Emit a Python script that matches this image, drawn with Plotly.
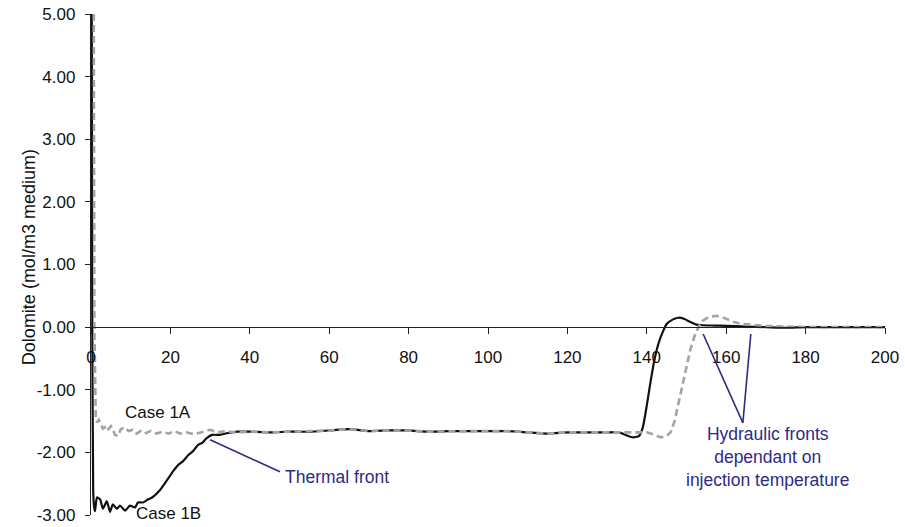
import plotly.graph_objects as go

# Dolomite profile along the flow path, Case 1B (solid)
case_1b_x = [0.2, 0.3, 0.55, 0.75, 1.0, 1.5, 2.3, 3.0, 4.0, 4.8, 5.5, 6.5, 7.3, 8.6, 9.8,
             11.1, 11.8, 13.1, 14.4, 15.4, 17.4, 19.4, 20.7, 22.0, 23.2, 24.4, 25.7, 27.0,
             28.0, 29.0, 30.5, 32.5, 34.5, 37.0, 40, 45, 50, 55, 60, 65, 70, 75, 80, 85,
             90, 95, 100, 105, 110, 115, 120, 125, 130, 133, 135, 136.5, 138, 139, 140,
             141, 142, 143, 144, 145, 146.5, 148, 149.5, 151, 152.5, 154, 157, 160, 165,
             170, 175, 180, 190, 200]
case_1b_y = [5.0, 0.5, -2.6, -2.85, -2.94, -2.72, -2.75, -2.9, -2.78, -2.95, -2.83, -2.9,
             -2.85, -2.93, -2.85, -2.88, -2.8, -2.8, -2.75, -2.72, -2.6, -2.42, -2.3, -2.2,
             -2.14, -2.05, -1.98, -1.88, -1.85, -1.78, -1.72, -1.72, -1.69, -1.67, -1.67,
             -1.68, -1.67, -1.67, -1.65, -1.63, -1.66, -1.65, -1.65, -1.67, -1.66, -1.66,
             -1.66, -1.66, -1.68, -1.70, -1.68, -1.68, -1.68, -1.68, -1.73, -1.76, -1.74,
             -1.6, -1.25, -0.85, -0.5, -0.25, -0.08, 0.05, 0.12, 0.15, 0.13, 0.08, 0.04,
             0.03, 0.025, 0.02, 0.01, 0.0, -0.01, 0.0, 0.0, 0.0]

# Dolomite profile along the flow path, Case 1A (dashed)
case_1a_x = [0.7, 0.85, 1.2, 1.5, 2.0, 2.5, 3.0, 3.5, 4.0, 5.0, 5.5, 6.0, 6.8, 7.5, 8.5,
             9.5, 10.5, 11.5, 12.5, 13.5, 15, 16.5, 18, 19.5, 21, 22.5, 24, 26, 28, 30,
             32, 34, 36, 38, 40, 45, 50, 55, 60, 65, 70, 75, 80, 85, 90, 95, 100, 105, 110,
             115, 120, 125, 130, 133, 138, 140, 142, 143.5, 145, 146, 147, 148, 149, 150,
             151, 152, 153, 154, 155.5, 157.5, 159, 160.5, 162, 164, 167, 170, 175, 180,
             190, 200]
case_1a_y = [5.0, 0.0, -1.45, -1.52, -1.48, -1.55, -1.62, -1.6, -1.66, -1.58, -1.62, -1.72,
             -1.74, -1.63, -1.6, -1.66, -1.64, -1.7, -1.66, -1.7, -1.66, -1.7, -1.67, -1.7,
             -1.66, -1.7, -1.68, -1.71, -1.67, -1.64, -1.68, -1.66, -1.68, -1.67, -1.67,
             -1.68, -1.67, -1.67, -1.65, -1.63, -1.66, -1.65, -1.65, -1.67, -1.66, -1.66,
             -1.66, -1.66, -1.68, -1.70, -1.68, -1.68, -1.68, -1.68, -1.68, -1.68, -1.72,
             -1.76, -1.74, -1.68, -1.5, -1.2, -0.9, -0.6, -0.35, -0.15, 0.0, 0.1, 0.16,
             0.18, 0.16, 0.12, 0.08, 0.05, 0.03, 0.02, 0.01, 0.0, 0.0, 0.0]

x_ticks = [0, 20, 40, 60, 80, 100, 120, 140, 160, 180, 200]
y_ticks = [5, 4, 3, 2, 1, 0, -1, -2, -3]
y_tick_text = ["5.00", "4.00", "3.00", "2.00", "1.00", "0.00", "-1.00", "-2.00", "-3.00"]

NOTE_COLOR = "#2E2B87"
FONT = "Liberation Sans, Arial, sans-serif"

fig = go.Figure()
fig.add_trace(go.Scatter(x=case_1b_x, y=case_1b_y, mode="lines", name="Case 1B",
                         line=dict(color="#111111", width=2.2, shape="spline", smoothing=0.5)))
fig.add_trace(go.Scatter(x=case_1a_x, y=case_1a_y, mode="lines", name="Case 1A",
                         line=dict(color="#A3A3A3", width=2.6, dash="7px,4px")))

# Leader lines for the front labels
leaders = [
    ((30.0, -1.80), (47.6, -2.31)),
    ((154.2, -0.11), (164.2, -1.53)),
    ((166.2, -0.11), (164.2, -1.53)),
]
for (x0, y0), (x1, y1) in leaders:
    fig.add_shape(type="line", x0=x0, y0=y0, x1=x1, y1=y1, xref="x", yref="y",
                  line=dict(color=NOTE_COLOR, width=1.6))

annotations = [
    dict(x=16.9, y=-1.37, text="Case 1A", font=dict(color="#111111", size=17)),
    dict(x=19.4, y=-2.98, text="Case 1B", font=dict(color="#111111", size=17)),
    dict(x=48.3, y=-2.40, text="Thermal front", xanchor="left",
         font=dict(color=NOTE_COLOR, size=17.5)),
    dict(x=170.5, y=-2.08, text="Hydraulic fronts<br>dependant on<br>injection temperature",
         font=dict(color=NOTE_COLOR, size=17.5)),
    dict(x=201.2, y=0.61, text="Distance from injection well (m)", xanchor="right",
         font=dict(color="#111111", size=17.5)),
]
for a in annotations:
    fig.add_annotation(xref="x", yref="y", showarrow=False, **a)

fig.add_annotation(xref="paper", yref="paper", x=-0.093, y=0.515, text="Dolomite (mol/m3 medium)",
                   textangle=-90, showarrow=False, font=dict(color="#111111", size=18))

fig.update_layout(
    width=905, height=527,
    margin=dict(l=91, r=20, t=14, b=12, autoexpand=False),
    paper_bgcolor="white", plot_bgcolor="white",
    showlegend=False,
    font=dict(family=FONT, color="#111111"),
    xaxis=dict(range=[0, 200], anchor="free", position=0.375, showline=True,
               linecolor="#222222", linewidth=1.3, ticks="outside", ticklen=6,
               tickcolor="#222222", tickvals=x_ticks, showgrid=False, zeroline=False,
               automargin=False,
               tickfont=dict(size=17, color="#111111"), ticklabelstandoff=8),
    yaxis=dict(range=[-3, 5], showline=True, linecolor="#222222", linewidth=1.3,
               ticks="outside", ticklen=5, tickcolor="#222222", tickvals=y_ticks,
               ticktext=y_tick_text, showgrid=False, zeroline=False, automargin=False,
               tickfont=dict(size=17, color="#111111"), ticklabelstandoff=6),
)

fig.write_html("out.html")
